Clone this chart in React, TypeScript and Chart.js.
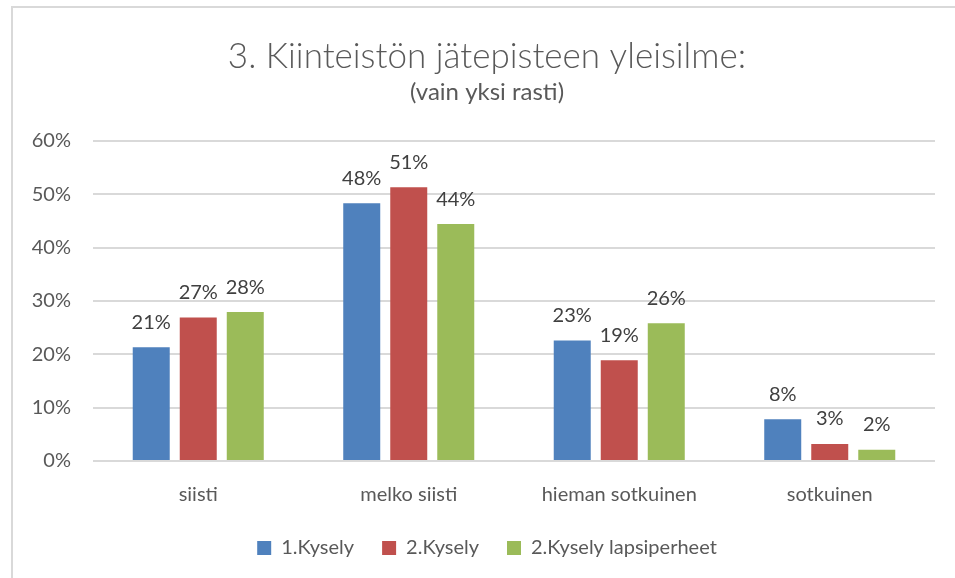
import React, { useEffect, useRef } from "react";
import { Chart, registerables } from "chart.js";

Chart.register(...registerables);

const categories = ["siisti", "melko siisti", "hieman sotkuinen", "sotkuinen"];
const seriesNames = ["1.Kysely", "2.Kysely", "2.Kysely lapsiperheet"];
const kysely1 = [21.3, 48.3, 22.6, 7.8];
const kysely2 = [26.9, 51.3, 18.9, 3.2];
const kysely2Lapsi = [27.9, 44.4, 25.8, 2.1];
const colors = ["#4F81BD", "#C0504D", "#9BBB59"];
const yTicks = [0, 10, 20, 30, 40, 50, 60];
const titleText = "3. Kiinteistön jätepisteen yleisilme:";
const subtitleText = "(vain yksi rasti)";

const FONT = "Lato, 'Open Sans', sans-serif";

const dataLabelPlugin = {
  id: "dataLabels",
  afterDatasetsDraw(chart: any) {
    const ctx = chart.ctx;
    ctx.save();
    ctx.font = `20px ${FONT}`;
    ctx.fillStyle = "#404040";
    ctx.textAlign = "center";
    ctx.textBaseline = "middle";
    chart.data.datasets.forEach((ds: any, i: number) => {
      const meta = chart.getDatasetMeta(i);
      meta.data.forEach((el: any, j: number) => {
        const v = ds.data[j];
        ctx.fillText(Math.round(v) + "%", el.x, el.y - 25);
      });
    });
    ctx.restore();
  },
};

// Centre title, subtitle and legend over the frame (as in the reference)
const boxShiftPlugin = {
  id: "boxShift",
  afterLayout(chart: any) {
    chart.boxes.forEach((b: any) => {
      if (b.isHorizontal && !b.axis && (b.position === "top" || b.position === "bottom")) {
        b.left = 39;
        if (b === chart.legend) {
          b.top -= 4;
          b.bottom -= 4;
        }
      }
    });
  },
};

export default function App() {
  const ref = useRef<HTMLCanvasElement>(null);
  useEffect(() => {
    if (!ref.current) return;
    const seriesData = [kysely1, kysely2, kysely2Lapsi];
    const chart = new Chart(ref.current, {
      type: "bar",
      data: {
        labels: categories,
        datasets: seriesNames.map((name, i) => ({
          label: name,
          data: seriesData[i],
          backgroundColor: colors[i],
          borderWidth: 0,
          categoryPercentage: 0.67,
          barPercentage: 0.787,
        })),
      },
      options: {
        responsive: false,
        animation: false,
        layout: { padding: { left: 0, right: 20, top: 0, bottom: 6 } },
        plugins: {
          title: {
            display: true,
            text: titleText,
            color: "#595959",
            font: { family: FONT, size: 35, weight: "300" as any, lineHeight: 1.2 },
            padding: { top: 36, bottom: 0 },
          },
          subtitle: {
            display: true,
            text: subtitleText,
            color: "#595959",
            font: { family: FONT, size: 24, lineHeight: 1.2 },
            padding: { top: 0, bottom: 34 },
          },
          legend: {
            position: "bottom",
            labels: {
              color: "#595959",
              font: { family: FONT, size: 20 },
              boxWidth: 14,
              boxHeight: 14,
              padding: 28,
            },
          },
          tooltip: { enabled: false },
        },
        scales: {
          x: {
            grid: { display: false },
            border: { display: false },
            ticks: {
              color: "#595959",
              font: { family: FONT, size: 20 },
              padding: 14,
            },
            afterFit(scale: any) {
              scale.height = 53;
            },
          },
          y: {
            min: 0,
            max: 60,
            afterBuildTicks(scale: any) {
              scale.ticks = yTicks.map((v) => ({ value: v }));
            },
            grid: { color: "#D9D9D9", lineWidth: 2, drawTicks: false },
            border: { display: false },
            ticks: {
              color: "#595959",
              font: { family: FONT, size: 20 },
              padding: 22,
              callback: (v: any) => v + "%",
            },
            afterFit(scale: any) {
              scale.width = 93;
            },
          },
        },
      },
      plugins: [dataLabelPlugin, boxShiftPlugin],
    });
    return () => chart.destroy();
  }, []);

  return (
    <div
      style={{
        position: "absolute",
        left: 0,
        top: 0,
        width: 955,
        height: 578,
        overflow: "hidden",
        background: "#fff",
      }}
    >
      <div
        style={{
          position: "absolute",
          left: 11,
          top: 6,
          width: 1000,
          height: 700,
          borderLeft: "2px solid #D9D9D9",
          borderTop: "2px solid #D9D9D9",
        }}
      />
      <canvas
        ref={ref}
        width={955}
        height={578}
        style={{ position: "absolute", left: 0, top: 0 }}
      />
    </div>
  );
}
